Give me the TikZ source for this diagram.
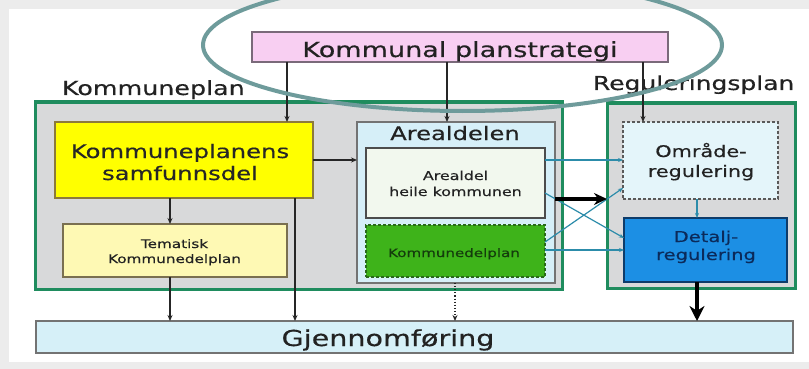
\documentclass[tikz,border=0pt]{standalone}
\usepackage{fontspec}
\setmainfont{DejaVu Sans}[FakeBold=0.4]
\usepackage{graphicx}
\usetikzlibrary{arrows.meta}
\newcommand\sx[1]{\scalebox{1.3}[1]{#1}}
\newcommand\ml[1]{\begin{tabular}[t]{@{}c@{}}#1\end{tabular}}
\definecolor{bgG}{HTML}{ECECEC}
\definecolor{frameG}{HTML}{1F8C5E}
\definecolor{frameFill}{HTML}{D8D9DA}
\definecolor{pinkF}{HTML}{F8CFF2}
\definecolor{pinkB}{HTML}{7A6A7A}
\definecolor{yelF}{HTML}{FFFF00}
\definecolor{yelB}{HTML}{8C7A3A}
\definecolor{temF}{HTML}{FEF9B4}
\definecolor{temB}{HTML}{7A7050}
\definecolor{arealF}{HTML}{D6EFF8}
\definecolor{heileF}{HTML}{F2F8EE}
\definecolor{kdpF}{HTML}{3EB31A}
\definecolor{kdpB}{HTML}{2A6A1A}
\definecolor{kdpT}{HTML}{143C0C}
\definecolor{omrF}{HTML}{E4F5FA}
\definecolor{detF}{HTML}{1C8FE4}
\definecolor{detB}{HTML}{0E3C6A}
\definecolor{detT}{HTML}{0B2A5A}
\definecolor{gjF}{HTML}{D6F0F8}
\definecolor{tealA}{HTML}{2C8CAA}
\definecolor{ellC}{HTML}{6E9B9B}
\definecolor{txt}{HTML}{222222}
\tikzset{
  box/.style={rectangle, inner sep=0pt, outer sep=0pt, line width=1.1pt},
  frame/.style={rectangle, inner sep=0pt, outer sep=0pt, draw=frameG, fill=frameFill, line width=3pt},
  txtnode/.style={inner sep=0pt, outer sep=0pt, anchor=base, text=txt},
  arr/.style={line width=1.1pt, draw=black!85, -{Stealth[length=6pt,width=5pt]}},
  tarr/.style={line width=1.2pt, draw=tealA, -{Stealth[length=5pt,width=4pt]}},
  bigarr/.style={line width=4pt, draw=black, -{Stealth[length=13pt,width=12pt]}},
}
\begin{document}
\begin{tikzpicture}[x=1pt,y=-1pt]
\useasboundingbox (0,0) rectangle (809,369);
\clip (0,0) rectangle (809,369);
\fill[bgG] (0,0) rectangle (809,369);
\fill[white] (9,9) rectangle (809,362);

% frames
\node[frame, minimum width=527pt, minimum height=187pt] (kpf) at (298.5,195.5) {};
\node[frame, minimum width=188pt, minimum height=185pt] (reg) at (701,195.5) {};

% boxes
\node[box, draw=pinkB, fill=pinkF, minimum width=416pt, minimum height=30pt] (pink) at (460,47) {};
\node[box, draw=yelB, fill=yelF, minimum width=258pt, minimum height=76pt] (yel) at (184,160) {};
\node[box, draw=temB, fill=temF, minimum width=224pt, minimum height=53pt] (tem) at (175,250.5) {};
\node[box, draw=black!55, fill=arealF, minimum width=198pt, minimum height=161pt] (areal) at (456,202.5) {};
\node[box, draw=black!70, fill=heileF, minimum width=179pt, minimum height=70pt] (heile) at (455.5,183) {};
\node[box, draw=kdpB, fill=kdpF, dash pattern=on 3pt off 2pt, minimum width=179pt, minimum height=52pt] (kdp) at (455.5,251) {};
\node[box, draw=black!65, fill=omrF, dash pattern=on 3pt off 2pt, minimum width=155pt, minimum height=77pt] (omr) at (700.5,160.5) {};
\node[box, draw=detB, fill=detF, minimum width=163pt, minimum height=64pt] (det) at (705.5,250) {};
\node[box, draw=black!55, fill=gjF, minimum width=757pt, minimum height=32pt] (gj) at (414.5,337) {};

% texts
\node[txtnode, font={\fontsize{20.8}{25}\selectfont}] (tpink) at (460,57) {\sx{Kommunal planstrategi}};
\node[txtnode, anchor=base west, font={\fontsize{19.5}{23}\selectfont}] (tkp) at (62,95) {\sx{Kommuneplan}};
\node[txtnode, anchor=base west, font={\fontsize{19.2}{23}\selectfont}] (treg) at (593,90) {\sx{Reguleringsplan}};
\node[txtnode, font={\fontsize{18.7}{22}\selectfont}, text=black!85] (tyel) at (180,158) {\sx{\ml{Kommuneplanens\\samfunnsdel}}};
\node[txtnode, font={\fontsize{11.7}{15}\selectfont}] (ttem) at (174.5,248) {\sx{\ml{Tematisk\\Kommunedelplan}}};
\node[txtnode, font={\fontsize{18.6}{22}\selectfont}] (tareal) at (455,140) {\sx{Arealdelen}};
\node[txtnode, font={\fontsize{12.2}{16}\selectfont}] (theile) at (455.5,180) {\sx{\ml{Arealdel\\heile kommunen}}};
\node[txtnode, font={\fontsize{11.6}{14}\selectfont}, text=kdpT] (tkdp) at (454,257) {\sx{Kommunedelplan}};
\node[txtnode, font={\fontsize{16}{20}\selectfont}] (tomr) at (701,157) {\sx{\ml{Område-\\regulering}}};
\node[txtnode, font={\fontsize{15}{18}\selectfont}, text=detT] (tdet) at (706,242) {\sx{\ml{Detalj-\\regulering}}};
\node[txtnode, font={\fontsize{22}{26}\selectfont}] (tgj) at (388,346) {\sx{Gjennomføring}};

% helper coordinates
\coordinate (c1) at (287,0);
\coordinate (c2) at (447,0);
\coordinate (c3) at (643,0);
\coordinate (c4) at (170,0);
\coordinate (c5) at (295,0);
\coordinate (c6) at (455,0);
\coordinate (c9) at (697,0);
\coordinate (h1) at (0,160);
\coordinate (h2) at (0,250);
\coordinate (d1) at (0,193);
\coordinate (d2) at (0,238);
\coordinate (d3) at (0,242);
\coordinate (d4) at (0,188);
\coordinate (d5) at (0,199);

% black thin arrows
\draw[arr] (pink.south -| c1) -- (yel.north -| c1);
\draw[arr] (pink.south -| c2) -- (areal.north -| c2);
\draw[arr] (pink.south -| c3) -- (omr.north -| c3);
\draw[arr] (yel.east) -- (yel.east -| areal.west);
\draw[arr] (yel.south -| c4) -- (tem.north -| c4);
\draw[arr] (tem.south -| c4) -- (gj.north -| c4);
\draw[arr] (yel.south -| c5) -- (gj.north -| c5);
\draw[arr, dotted, line width=1.3pt] (areal.south -| c6) -- (gj.north -| c6);

% teal arrows
\draw[tarr] (heile.east |- h1) -- (omr.west |- h1);
\draw[tarr] (kdp.east |- h2) -- (det.west |- h2);
\draw[tarr] (heile.east |- d1) -- (det.west |- d2);
\draw[tarr] (kdp.east |- d3) -- (omr.west |- d4);
\draw[tarr] (omr.south -| c9) -- (det.north -| c9);

% thick arrows
\draw[bigarr] (areal.east |- d5) -- (reg.west |- d5);
\draw[bigarr, -{Stealth[length=15pt,width=15pt]}] (det.south -| c9) -- (gj.north -| c9);

% ellipse
\draw[ellC, line width=4pt] (462.5,45) ellipse [x radius=259.5pt, y radius=66pt];
\end{tikzpicture}
\end{document}
